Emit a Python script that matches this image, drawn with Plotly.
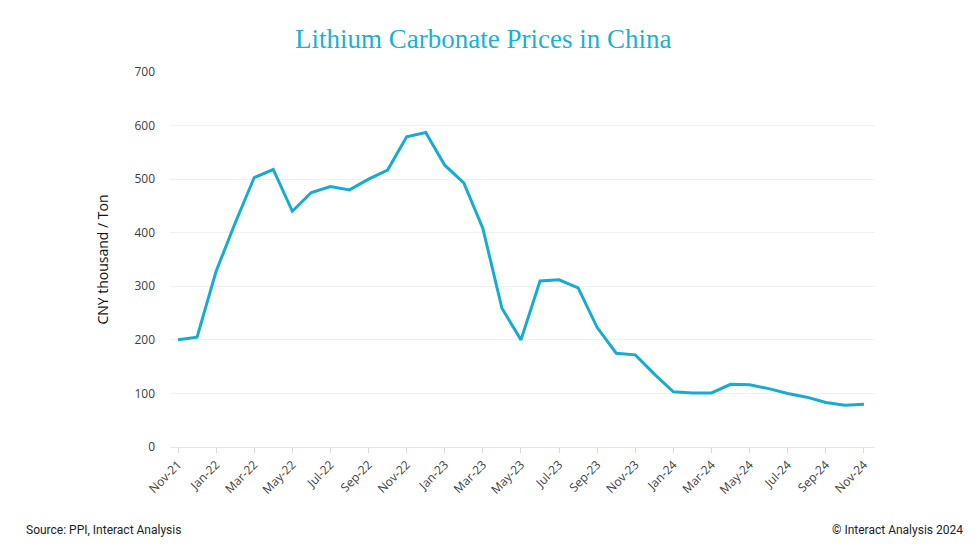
import plotly.graph_objects as go

months = ["Nov-21", "Dec-21", "Jan-22", "Feb-22", "Mar-22", "Apr-22", "May-22", "Jun-22",
          "Jul-22", "Aug-22", "Sep-22", "Oct-22", "Nov-22", "Dec-22", "Jan-23", "Feb-23",
          "Mar-23", "Apr-23", "May-23", "Jun-23", "Jul-23", "Aug-23", "Sep-23", "Oct-23",
          "Nov-23", "Dec-23", "Jan-24", "Feb-24", "Mar-24", "Apr-24", "May-24", "Jun-24",
          "Jul-24", "Aug-24", "Sep-24", "Oct-24", "Nov-24"]
prices = [200, 205, 328, 418, 503, 518, 440, 475, 486, 480, 500, 517, 579, 587, 526, 493,
          408, 259, 200, 310, 312, 297, 223, 175, 172, 136, 103, 101, 101, 117, 116, 109,
          100, 93, 83, 78, 80]
tick_labels = months[::2]
y_ticks = [0, 100, 200, 300, 400, 500, 600, 700]

fig = go.Figure()
fig.add_trace(go.Scatter(
    x=list(range(len(months))), y=prices, mode="lines",
    line=dict(color="#18abd0", width=3), hoverinfo="x+y", showlegend=False,
))

fig.update_layout(
    width=980, height=560,
    paper_bgcolor="white", plot_bgcolor="white",
    margin=dict(l=162, r=113, t=64, b=121),
    title=dict(text="Lithium Carbonate Prices in China", x=0.485, xanchor="center",
               y=0.946, yanchor="middle",
               font=dict(family="Liberation Serif, DejaVu Serif, serif", size=27, color="#1ab2d2")),
    font=dict(family="Open Sans, Noto Sans, sans-serif", color="#444444"),
    xaxis=dict(
        range=[-0.42, 36.58],
        tickmode="array",
        tickvals=list(range(0, len(months), 2)),
        ticktext=tick_labels,
        tickangle=-45,
        ticks="outside", ticklen=5, tickcolor="#d9d9d9",
        showline=True, linecolor="#e6e6e6", linewidth=1,
        showgrid=False, zeroline=False,
        tickfont=dict(size=12, color="#404040"),
    ),
    yaxis=dict(
        range=[0, 700],
        tickmode="array", tickvals=y_ticks,
        showgrid=True, gridcolor="#f0f0f0", gridwidth=1,
        zeroline=False, showline=False,
        ticks="", ticklabelstandoff=14,
        tickfont=dict(size=12, color="#404040"),
        title=dict(text="CNY thousand / Ton", standoff=22,
                   font=dict(size=14, color="#111111")),
    ),
    annotations=[
        dict(text="Source: PPI, Interact Analysis", xref="paper", yref="paper",
             x=-0.2071, y=-0.2213, xanchor="left", yanchor="middle", showarrow=False,
             font=dict(family="Liberation Sans Narrow, Roboto, sans-serif", size=12, color="#222222")),
        dict(text="© Interact Analysis 2024", xref="paper", yref="paper",
             x=1.1277, y=-0.2213, xanchor="right", yanchor="middle", showarrow=False,
             font=dict(family="Liberation Sans Narrow, Roboto, sans-serif", size=12, color="#222222")),
    ],
)

fig.write_html("out.html")
